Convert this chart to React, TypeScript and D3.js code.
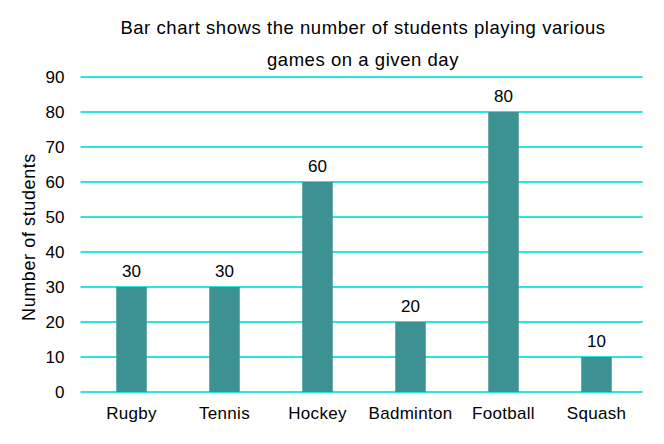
import React from "react";
import * as d3 from "d3";

const categories = ["Rugby", "Tennis", "Hockey", "Badminton", "Football", "Squash"];
const values = [30, 30, 60, 20, 80, 10];
const yTicks = [0, 10, 20, 30, 40, 50, 60, 70, 80, 90];
const titleLines = ["Bar chart shows the number of students playing various", "games on a given day"];
const yTitle = "Number of students";

const W = 664;
const H = 444;

export default function App() {
  const x = d3.scaleBand<string>().domain(categories).range([85, 643]).paddingInner(0.672).paddingOuter(0.336);
  const y = d3.scaleLinear().domain([0, 90]).range([392, 77]);
  const font = "'Liberation Sans', Arial, sans-serif";
  return (
    <svg width={W} height={H} style={{ position: "absolute", left: 0, top: 0, background: "#fff" }} fontFamily={font}>
      <rect width={W} height={H} fill="#fff" />
      {titleLines.map((t, i) => (
        <text key={i} x={363} y={34 + i * 32} textAnchor="middle" fontSize={18.5} letterSpacing={0.55} fill="#000">{t}</text>
      ))}
      {yTicks.map((t) => (
        <g key={t}>
          <line x1={80.5} x2={642.5} y1={y(t)} y2={y(t)} stroke="#2ae6e0" strokeWidth={2} />
          <text x={64.5} y={y(t) + 6} textAnchor="end" fontSize={17} fill="#000">{t}</text>
        </g>
      ))}
      <text transform={`translate(35,237) rotate(-90)`} textAnchor="middle" fontSize={18} letterSpacing={0.6} fill="#000">{yTitle}</text>
      {categories.map((c, i) => {
        const bx = x(c)!;
        const bw = x.bandwidth();
        return (
          <g key={c}>
            <rect x={bx} y={y(values[i])} width={bw} height={y(0) - y(values[i])} fill="#3c9292" />
            <text x={bx + bw / 2} y={y(values[i]) - 10} textAnchor="middle" fontSize={17} fill="#000">{values[i]}</text>
            <text x={bx + bw / 2} y={419} textAnchor="middle" fontSize={17} letterSpacing={0.3} fill="#000">{c}</text>
          </g>
        );
      })}
    </svg>
  );
}
